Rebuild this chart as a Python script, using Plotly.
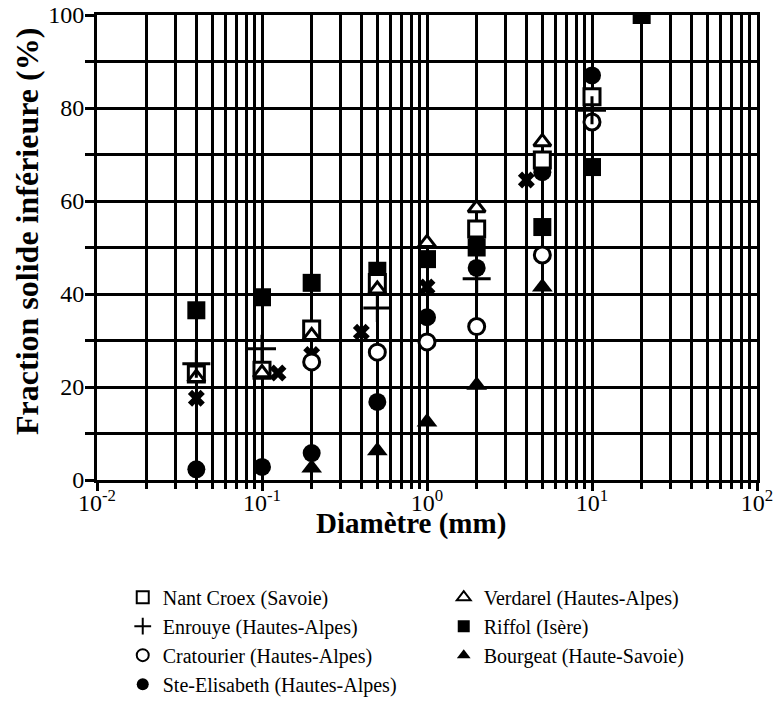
import plotly.graph_objects as go

FONT = "Liberation Serif"

# ---- data (diameter in mm, cumulative fraction in %) ----
nant_x = [0.04, 0.1, 0.2, 0.5, 2, 5, 10]
nant_y = [22.8, 23.6, 32.5, 42.5, 54, 68.8, 82.4]

verd_x = [0.04, 0.1, 0.2, 0.5, 1, 2, 5]
verd_y = [22, 23, 31, 41, 51, 58.5, 72.7]

enr_x = [0.04, 0.1, 0.5, 2, 10]
enr_y = [25, 28.2, 37, 43.3, 79.5]

riff_x = [0.04, 0.1, 0.2, 0.5, 1, 2, 5, 10, 20]
riff_y = [36.5, 39.3, 42.4, 45, 47.5, 50, 54.4, 67.3, 100]

crat_x = [0.2, 0.5, 1, 2, 5, 10]
crat_y = [25.4, 27.5, 29.7, 33, 48.4, 77]

bourg_x = [0.2, 0.5, 1, 2, 5]
bourg_y = [2.6, 6.3, 12.5, 20.4, 41.5]

ste_x = [0.04, 0.1, 0.2, 0.5, 1, 2, 5, 10]
ste_y = [2.3, 2.8, 5.8, 16.8, 35, 45.6, 66.2, 87]

xm_x = [0.04, 0.125, 0.2, 0.4, 1, 2, 4]
xm_y = [17.6, 23, 27, 31.8, 41.5, 53, 64.5]

decades = [-2, -1, 0, 1, 2]
tick_vals = [10 ** d for d in decades]
tick_text = ["10<sup>%d</sup>" % d for d in decades]
minor_vals = [k * 10 ** d for d in decades[:-1] for k in range(2, 10)]

x_title = "Diamètre (mm)"
y_title = "Fraction solide inférieure (%)"

fig = go.Figure()

def add(name, xs, ys, symbol, fill, size=17, lw=3, legend=True):
    fig.add_trace(go.Scatter(
        x=xs, y=ys, mode="markers", name=name, showlegend=legend,
        marker=dict(symbol=symbol, size=size, color=fill,
                    line=dict(color="black", width=lw)),
    ))

add("Ste-Elisabeth (Hautes-Alpes)", ste_x, ste_y, "circle", "black", size=18, lw=0)
add("Bourgeat (Haute-Savoie)", bourg_x, bourg_y, "triangle-up", "black", size=18, lw=0)
add("Riffol (Isère)", riff_x, riff_y, "square", "black", size=18, lw=0)
add("x", xm_x, xm_y, "x", "black", size=15, lw=0, legend=False)
add("Cratourier (Hautes-Alpes)", crat_x, crat_y, "circle", "white", size=16)
add("Nant Croex (Savoie)", nant_x, nant_y, "square", "white", size=16)
add("Verdarel (Hautes-Alpes)", verd_x, verd_y, "triangle-up", "white", size=15)
add("Enrouye (Hautes-Alpes)", enr_x, enr_y, "cross-thin", "black", size=20, lw=3)

# legend ordering (row-major, two columns)
order = ["Nant Croex (Savoie)", "Verdarel (Hautes-Alpes)",
         "Enrouye (Hautes-Alpes)", "Riffol (Isère)",
         "Cratourier (Hautes-Alpes)", "Bourgeat (Haute-Savoie)",
         "Ste-Elisabeth (Hautes-Alpes)"]
for tr in fig.data:
    if tr.name in order:
        tr.legendrank = order.index(tr.name) + 1

fig.update_layout(
    width=784, height=702,
    margin=dict(l=97, r=27, t=15, b=222, autoexpand=False),
    paper_bgcolor="white", plot_bgcolor="white",
    font=dict(family=FONT, size=20, color="black"),
    showlegend=True,
    legend=dict(orientation="h", x=0.039, y=-0.21, xanchor="left", yanchor="top",
                entrywidth=276, entrywidthmode="pixels",
                font=dict(family=FONT, size=20, color="black"),
                itemsizing="constant", traceorder="normal",
                bgcolor="rgba(0,0,0,0)"),
    xaxis=dict(
        type="log", range=[-2, 2],
        tickvals=tick_vals, ticktext=tick_text,
        showgrid=True, gridcolor="black", gridwidth=3,
        ticks="outside", ticklen=8, tickwidth=3, tickcolor="black",
        ticklabelstandoff=-9,
        showline=True, linecolor="black", linewidth=3, mirror=True,
        zeroline=False,
        tickfont=dict(family=FONT, size=24),
        minor=dict(tickvals=minor_vals, showgrid=True, gridcolor="black",
                   gridwidth=3, ticks="outside", ticklen=6, tickwidth=3,
                   tickcolor="black"),
    ),
    yaxis=dict(
        range=[0, 100], dtick=20, tick0=0,
        showgrid=True, gridcolor="black", gridwidth=3,
        ticks="outside", ticklen=9, tickwidth=3, tickcolor="black",
        ticklabelstandoff=-4,
        showline=True, linecolor="black", linewidth=3, mirror=True,
        zeroline=False,
        tickfont=dict(family=FONT, size=24),
        minor=dict(dtick=10, showgrid=True, gridcolor="black", gridwidth=3,
                   ticks="outside", ticklen=9, tickwidth=3, tickcolor="black"),
    ),
    annotations=[
        dict(text="<b>%s</b>" % x_title, xref="paper", yref="paper",
             x=0.476, y=-0.094, xanchor="center", yanchor="middle",
             showarrow=False, font=dict(family=FONT, size=29)),
        dict(text="<b>%s</b>" % y_title, xref="paper", yref="paper",
             x=-0.105, y=0.535, xanchor="center", yanchor="middle",
             textangle=-90, showarrow=False, font=dict(family=FONT, size=32)),
    ],
)

fig.write_html("out.html")
